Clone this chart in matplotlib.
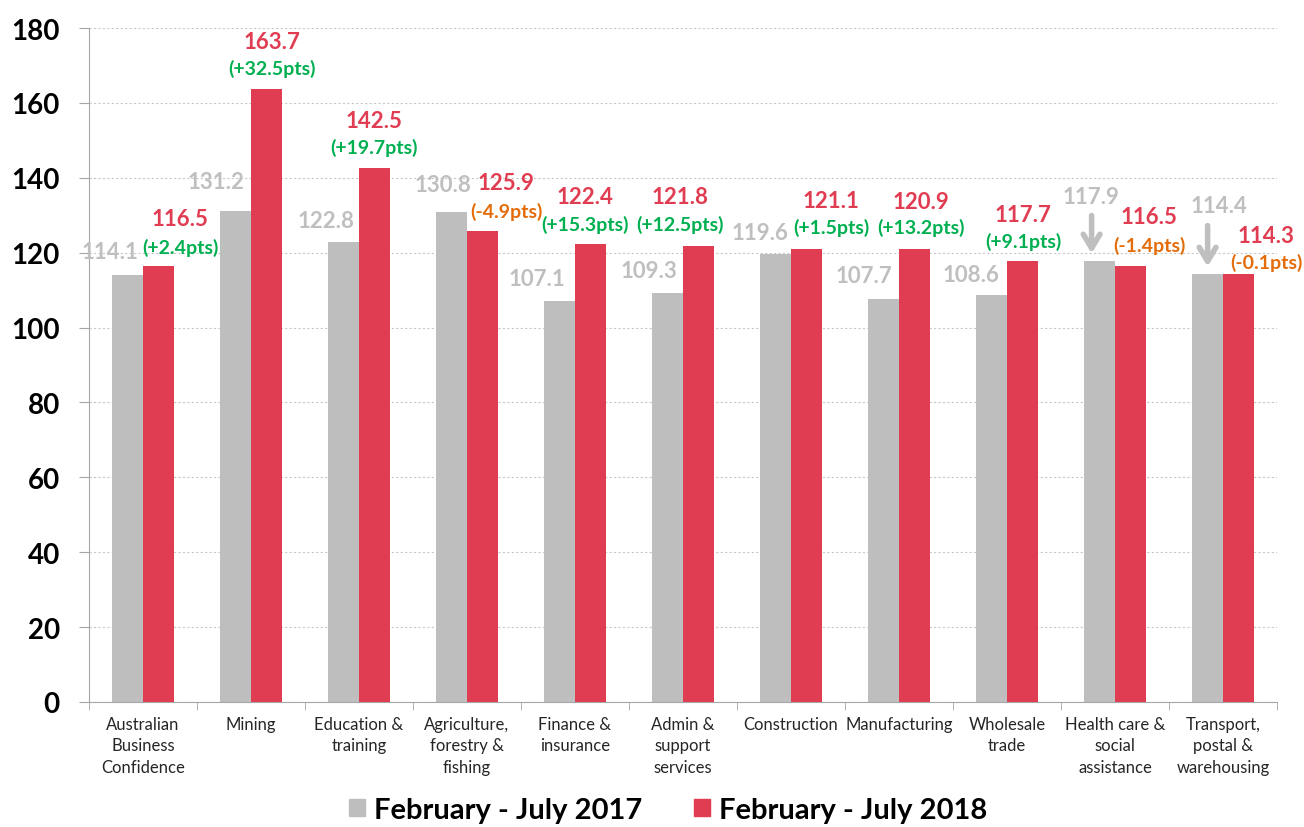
import numpy as np
import matplotlib
matplotlib.use("Agg")
import matplotlib.pyplot as plt
from matplotlib.patches import Patch
from matplotlib.transforms import offset_copy

plt.rcParams['font.family'] = ['Lato', 'DejaVu Sans']

# data
categories = ["Australian\nBusiness\nConfidence", "Mining", "Education &\ntraining",
              "Agriculture,\nforestry &\nfishing", "Finance &\ninsurance",
              "Admin &\nsupport\nservices", "Construction", "Manufacturing",
              "Wholesale\ntrade", "Health care &\nsocial\nassistance",
              "Transport,\npostal &\nwarehousing"]
values_2017 = [114.1, 131.2, 122.8, 130.8, 107.1, 109.3, 119.6, 107.7, 108.6, 117.9, 114.4]
values_2018 = [116.5, 163.7, 142.5, 125.9, 122.4, 121.8, 121.1, 120.9, 117.7, 116.5, 114.3]
series_names = ["February - July 2017", "February - July 2018"]
yticks = [0, 20, 40, 60, 80, 100, 120, 140, 160, 180]

# label placement (pixel offsets from bar tops)
grayOffsets = [(-18, 23), (-20, 29), (-18, 22), (-9, 28), (-23, 22), (-19, 22),
               (-16, 22), (-20, 23), (-21, 21), (-9, 64), (11, 68)]
redOffsets = [(22, 47, 19), (6, 48, 21), (0, 48, 21), (24, 48, 20), (-5, 47, 20),
              (-18, 49, 22), (25, 48, 22), (7, 48, 22), (1, 47, 20), (19, 49, 21),
              (28, 39, 12)]
arrowCats = {9: (-8, 45, 7), 10: (0, 48, 7)}

GRAY = "#BDBEBD"
RED = "#E03C52"
GREEN = "#00B050"
ORANGE = "#E46C0A"
LABELGRAY = "#BFBFBF"

fig = plt.figure(figsize=(13.04, 8.28), dpi=100)
ax = fig.add_axes([89 / 1304, 1 - 703 / 828, (1277 - 89) / 1304, (703 - 29) / 828])

x = np.arange(len(categories))
w = 0.285
ax.bar(x - w / 2, values_2017, w, color=GRAY, zorder=3)
ax.bar(x + w / 2, values_2018, w, color=RED, zorder=3)

for i in range(len(categories)):
    gx = x[i] - w / 2
    rx = x[i] + w / 2
    dx, dy = grayOffsets[i]
    ax.annotate("%.1f" % values_2017[i], (gx, values_2017[i]), xytext=(dx, dy),
                textcoords="offset pixels", ha="center", va="center",
                fontsize=16, fontweight="bold", color=LABELGRAY, zorder=5)
    rdx, rdy, cdy = redOffsets[i]
    ax.annotate("%.1f" % values_2018[i], (rx, values_2018[i]), xytext=(rdx, rdy),
                textcoords="offset pixels", ha="center", va="center",
                fontsize=16, fontweight="bold", color=RED, zorder=5)
    diff = round(values_2018[i] - values_2017[i], 1)
    diffText = "(%+.1fpts)" % diff
    ax.annotate(diffText, (rx, values_2018[i]), xytext=(rdx, cdy),
                textcoords="offset pixels", ha="center", va="center",
                fontsize=14, fontweight="bold",
                color=GREEN if diff > 0 else ORANGE, zorder=5)
    if i in arrowCats:
        adx, top, bot = arrowCats[i]
        headTrans = offset_copy(ax.transData, fig=fig, x=adx, y=bot, units="dots")
        tailTrans = offset_copy(ax.transData, fig=fig, x=adx, y=top, units="dots")
        ax.annotate("", xy=(gx, values_2017[i]), xycoords=headTrans,
                    xytext=(gx, values_2017[i]), textcoords=tailTrans,
                    arrowprops=dict(arrowstyle="->,head_length=1.0,head_width=0.6",
                                    color=LABELGRAY, lw=4, shrinkA=0, shrinkB=0),
                    zorder=5)

ax.set_xlim(-0.5, len(categories) - 0.5)
ax.set_ylim(0, 180)
ax.set_yticks(yticks)
ax.set_yticklabels([str(t) for t in yticks], fontsize=20, fontweight="bold")
ax.set_xticks(x)
ax.set_xticklabels(categories, fontsize=12, color="#262626", linespacing=1.42)
ax.set_xticks(np.arange(-0.5, len(categories)), minor=True)
ax.tick_params(axis="x", which="major", length=0, pad=10)
ax.tick_params(axis="x", which="minor", length=6, color="#A6A6A6")
ax.tick_params(axis="y", length=7, color="#A6A6A6", pad=14)

ax.grid(axis="y", color="#C8C8C8", linestyle=(0, (2, 2)), linewidth=0.8, zorder=0)
for s in ["top", "right"]:
    ax.spines[s].set_visible(False)
ax.spines["left"].set_color("#A6A6A6")
ax.spines["bottom"].set_color("#A6A6A6")

handles = [Patch(color=GRAY), Patch(color=RED)]
fig.legend(handles, series_names, loc="center", bbox_to_anchor=(668 / 1304, 1 - 811 / 828),
           ncol=2, frameon=False, prop={"size": 21, "weight": "bold"},
           handlelength=0.55, handleheight=0.55, handletextpad=0.3, columnspacing=1.8)

fig.savefig("out.png", dpi=100)
